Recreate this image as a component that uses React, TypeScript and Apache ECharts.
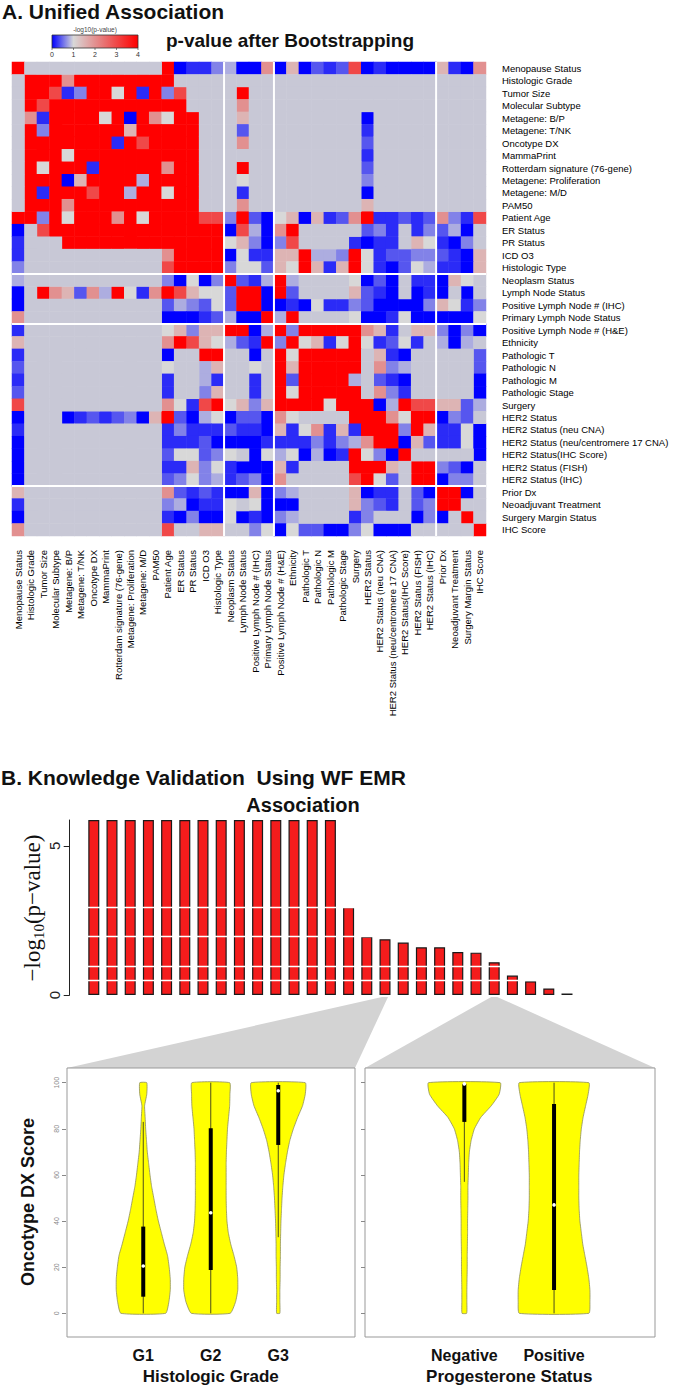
import React, { useEffect, useRef } from "react";
import * as echarts from "echarts";

// ---------------- Panel A: association heatmap ----------------
const VARIABLES = [
  "Menopause Status", "Histologic Grade", "Tumor Size", "Molecular Subtype",
  "Metagene: B/P", "Metagene: T/NK", "Oncotype DX", "MammaPrint",
  "Rotterdam signature (76-gene)", "Metagene: Proliferation", "Metagene: M/D", "PAM50",
  "Patient Age", "ER Status", "PR Status", "ICD O3", "Histologic Type",
  "Neoplasm Status", "Lymph Node Status", "Positive Lymph Node # (IHC)", "Primary Lymph Node Status",
  "Positive Lymph Node # (H&E)", "Ethnicity", "Pathologic T", "Pathologic N", "Pathologic M",
  "Pathologic Stage", "Surgery", "HER2 Status", "HER2 Status (neu CNA)",
  "HER2 Status (neu/centromere 17 CNA)", "HER2 Status(IHC Score)", "HER2 Status (FISH)",
  "HER2 Status (IHC)", "Prior Dx", "Neoadjuvant Treatment", "Surgery Margin Status", "IHC Score",
];

// code digit -> -log10(p) value ; "." = not tested
const LEVELS = [0, 0.2, 0.4, 0.6, 0.8, 1.0, 1.5, 2.0, 3.0, 4.0];

const HEAT_ROWS = [
  "9" + "..........." + "901134" + "00" + "7" + "0602128" + "010000" + "6107",
  ".9997" + "99999999" + ".........................",
  ".9981399591938" + "...." + "9" + "...................",
  ".98" + "99999999999" + "...." + "7" + "...................",
  ".71999959097599" + "..." + "6" + "........." + "0" + ".........",
  ".93999999699999" + "..." + "2" + "........." + "1" + ".........",
  ".99999991989999" + "..." + "7" + "........." + "2" + ".........",
  ".99959999999999" + "...." + "........." + "1" + ".........",
  ".95999199999799" + "..." + "9" + "........." + "2" + ".........",
  ".99906999949999" + "..." + "5" + "........." + "3" + ".........",
  ".91999899499599" + "..." + "1" + "........." + "0" + ".........",
  ".99979999999999" + "..." + "7" + "........." + "6" + ".........",
  "9939599979" + "5999988392" + "0560612791" + "12127318",
  "0.8" + "99999999999999" + "08" + "40" + "79" + "....." + "231.13" + "240.",
  "1..." + "9999999999999" + "56" + "30" + "38" + "...." + "1011" + "." + "65" + "103.",
  "1" + "..........." + "7" + "9999" + "05" + "11" + "6694439" + "512233" + "2106",
  "3" + "..........." + "8" + "9999" + "35" + "52" + "6596169" + "510254" + "1106",
  "4" + "..........." + "30503" + "92" + "14" + "94" + "...." + "5020" + "." + "11" + "065.",
  "0.9762749517986552" + "990" + "92" + "...." + "6210.01" + "0.0.",
  "0" + "..........." + "24325" + "29" + "90" + "0105113" + "200003" + "6513",
  "7" + "..........." + "00012" + "40" + "09" + "49" + "...." + "5001500" + "0005",
  "1" + "..........." + "56366" + "99" + "04" + "93" + "99999" + "761.66" + "3030",
  "6" + "..........." + "79865" + "42" + "19" + "39" + "56159" + "51251." + "404.",
  "1" + "..........." + "0..99" + ".." + "0." + "95" + "99999" + ".610.." + "...2",
  "2" + "..........." + "5..46" + ".." + "5." + "96" + "99999" + ".734.." + "...2",
  "1" + "..........." + "1..41" + ".." + "1." + "92" + "99994" + ".210.." + "...0",
  "2" + "..........." + "1..36" + ".." + "1." + "95" + "99999" + ".731.." + "...0",
  "8" + "..........." + "75189" + "56" + "36" + "99" + "99599" + "904988" + "6624",
  "0" + "..." + "01212306" + "92045" + "02" + "20" + "75" + "....9" + "997599" + "032.",
  "1" + "..........." + "13111" + "21" + "10" + "61" + "57161" + "999396" + "1150",
  "0" + "..........." + "11120" + "00" + "01" + "11" + "13134" + "799062" + "1150",
  "0" + "..........." + "25523" + "5." + "05" + "45" + "04019" + "5309.." + "...0",
  "0" + "..........." + "11635" + "10" + "00" + "61" + "....9" + "996.99" + "320.",
  "0" + "..........." + "23534" + "12" + "30" + "7." + "....8" + "952.99" + "033.",
  "6" + "..........." + "72121" + "00" + "60" + "34" + "....6" + "011.20" + "990.",
  "1" + "..........." + "34011" + "5." + "50" + "00" + "....6" + "321.23" + "99..",
  "0" + "..........." + "10300" + "50" + "10" + "34" + "....1" + "3...03" + "0.9.",
  "7" + "..........." + "8..66" + ".." + "35" + "05" + "22003" + "5000.." + "...9",
];

const SEPARATORS = [17, 21, 34];
const LEGEND_TICKS = [0, 1, 2, 3, 4];
const HEAT_COLORS = ["#0000ff", "#d8d8d8", "#e29090", "#f04848", "#ff0000"];
const NA_COLOR = "#c8c8d6";

// ---------------- Panel B: association bars ----------------
const BAR_IDS = [
  "1", "2", "3", "4", "5", "6", "7", "8", "9", "10", "11", "12", "13", "14",
  "15", "16", "17", "18", "19", "20", "21", "22", "23", "24", "25", "26", "27",
];
const BAR_VALUES = [
  5.87, 5.87, 5.87, 5.87, 5.87, 5.87, 5.87, 5.87, 5.87, 5.87, 5.87, 5.87, 5.87, 5.87,
  2.95, 1.96, 1.87, 1.76, 1.6, 1.6, 1.44, 1.42, 1.1, 0.65, 0.46, 0.22, 0.05,
];
const BAR_WHITE_LINES = [0.48, 0.97, 1.98, 2.95];
const BAR_TICKS = [0, 5];
const LINK_GRADE = 16;
const LINK_PR = 22;

// ---------------- Violins ----------------
const GRADE_CATS = ["G1", "G2", "G3"];
const PR_CATS = ["Negative", "Positive"];
const VIOLIN_LEVELS = [0, 5, 10, 15, 20, 25, 30, 35, 40, 45, 50, 55, 60, 65, 70, 75, 80, 85, 90, 95, 100];
const GRADE_DENSITY = [
  [0.83, 0.95, 1.0, 1.0, 0.96, 0.9, 0.78, 0.67, 0.56, 0.47, 0.39, 0.31, 0.25, 0.2, 0.15, 0.12, 0.09, 0.07, 0.05, 0.13, 0.13],
  [0.72, 0.92, 1.0, 1.0, 0.96, 0.86, 0.74, 0.65, 0.6, 0.58, 0.57, 0.57, 0.57, 0.57, 0.58, 0.6, 0.62, 0.66, 0.7, 0.71, 0.7],
  [0.06, 0.06, 0.06, 0.07, 0.07, 0.08, 0.08, 0.09, 0.1, 0.12, 0.14, 0.17, 0.21, 0.27, 0.34, 0.43, 0.56, 0.72, 0.9, 1.0, 1.0],
];
const PR_DENSITY = [
  [0.065, 0.07, 0.07, 0.075, 0.08, 0.08, 0.085, 0.09, 0.09, 0.095, 0.1, 0.1, 0.11, 0.12, 0.14, 0.19, 0.28, 0.46, 0.75, 0.97, 1.0],
  [0.97, 1.0, 1.0, 0.97, 0.92, 0.86, 0.8, 0.76, 0.72, 0.7, 0.69, 0.69, 0.69, 0.7, 0.71, 0.73, 0.76, 0.81, 0.88, 0.95, 0.97],
];
// [whisker low, Q1, median, Q3, whisker high]
const GRADE_BOX = [
  [0, 7.2, 20.5, 37.6, 83],
  [0, 18.8, 43.6, 80.2, 100],
  [33, 73, 96.5, 99, 100],
];
const PR_BOX = [
  [57, 83, 99.5, 99.5, 100],
  [0, 10.1, 47, 90.8, 100],
];

const SANS = "Liberation Sans, Arial, sans-serif";
const SERIF = "Liberation Serif, DejaVu Serif, serif";

function violinRenderer(densities: number[][], boxes: number[][]) {
  return (params: any, api: any) => {
    const i = api.value(0);
    const dens = densities[i];
    const st = boxes[i];
    const band = api.size([1, 0])[0];
    const maxHW = band * 0.4;
    const pts: number[][] = [];
    VIOLIN_LEVELS.forEach((v, k) => {
      const p = api.coord([i, v]);
      pts.push([p[0] + dens[k] * maxHW, p[1]]);
    });
    for (let k = VIOLIN_LEVELS.length - 1; k >= 0; k--) {
      const p = api.coord([i, VIOLIN_LEVELS[k]]);
      pts.push([p[0] - dens[k] * maxHW, p[1]]);
    }
    const lo = api.coord([i, st[0]]);
    const q1 = api.coord([i, st[1]]);
    const med = api.coord([i, st[2]]);
    const q3 = api.coord([i, st[3]]);
    const hi = api.coord([i, st[4]]);
    return {
      type: "group",
      children: [
        { type: "polygon", shape: { points: pts, smooth: 0.15 }, style: { fill: "#ffff00", stroke: "#8d8d5c", lineWidth: 0.8 } },
        { type: "line", shape: { x1: lo[0], y1: lo[1], x2: hi[0], y2: hi[1] }, style: { stroke: "#3a3a20", lineWidth: 0.9 } },
        { type: "rect", shape: { x: q1[0] - 2, y: q3[1], width: 4, height: q1[1] - q3[1] }, style: { fill: "#000" } },
        { type: "circle", shape: { cx: med[0], cy: med[1], r: 1.8 }, style: { fill: "#fff" } },
      ],
    };
  };
}

export default function App() {
  const ref = useRef<HTMLDivElement>(null);

  useEffect(() => {
    document.body.style.margin = "0";
    const el = ref.current!;
    const chart = echarts.init(el, undefined, { renderer: "svg" });

    const heatData: number[][] = [];
    const naData: number[][] = [];
    HEAT_ROWS.forEach((row, r) => {
      const s = row.padEnd(38, ".").slice(0, 38);
      for (let c = 0; c < 38; c++) {
        const ch = s[c];
        if (ch === ".") naData.push([c, r, 1]);
        else heatData.push([c, r, LEVELS[Number(ch)]]);
      }
    });

    const violinYAxis = (grid: number, offset: number, labels: boolean) => ({
      type: "value",
      gridIndex: grid,
      min: 0,
      max: 100,
      interval: 20,
      offset,
      axisLine: { show: false },
      axisTick: { show: true, length: 4, lineStyle: { color: "#888" } },
      axisLabel: { show: labels, rotate: 90, fontSize: 7, color: "#888", margin: 6, fontFamily: SANS },
      splitLine: { show: false },
    });
    const violinXAxis = (grid: number, cats: string[], name: string) => ({
      type: "category",
      gridIndex: grid,
      data: cats,
      axisLine: { show: false },
      axisTick: { show: false },
      axisLabel: { fontSize: 16, fontWeight: "bold", color: "#111", margin: 34, fontFamily: SANS },
      name,
      nameLocation: "middle",
      nameGap: 55,
      nameTextStyle: { fontSize: 17, fontWeight: "bold", color: "#111", fontFamily: SANS },
    });

    chart.setOption({
      animation: false,
      textStyle: { fontFamily: SANS },
      grid: [
        { left: 12, top: 62, width: 474, height: 474 },
        { left: 84.7, top: 820, width: 491.4, height: 175 },
        { left: 109.5, top: 1082.7, width: 202.5, height: 230.6 },
        { left: 419.5, top: 1082.7, width: 179.4, height: 230.6 },
      ],
      xAxis: [
        {
          type: "category", gridIndex: 0, data: VARIABLES,
          axisLine: { show: false }, axisTick: { show: false }, splitLine: { show: false },
          axisLabel: { interval: 0, rotate: 90, fontSize: 9.5, color: "#000", margin: 14, fontFamily: SANS },
        },
        { type: "category", gridIndex: 1, data: BAR_IDS, show: false },
        violinXAxis(2, GRADE_CATS, "Histologic Grade"),
        violinXAxis(3, PR_CATS, "Progesterone Status"),
      ],
      yAxis: [
        {
          type: "category", gridIndex: 0, data: VARIABLES, inverse: true, position: "right",
          axisLine: { show: false }, axisTick: { show: false }, splitLine: { show: false },
          axisLabel: { interval: 0, fontSize: 9.5, color: "#000", margin: 16, fontFamily: SANS },
        },
        {
          type: "value", gridIndex: 1, min: 0, max: 5.87, offset: 15,
          axisLine: { show: true, lineStyle: { color: "#222", width: 1 } },
          axisTick: { show: true, length: 6, customValues: BAR_TICKS, lineStyle: { color: "#222" } },
          axisLabel: { customValues: BAR_TICKS, rotate: 90, fontSize: 15, color: "#222", margin: 8, fontFamily: SANS },
          splitLine: { show: false },
        },
        violinYAxis(2, 43.5, true),
        violinYAxis(3, 54.5, false),
      ],
      visualMap: [
        {
          show: false, type: "continuous", min: 0, max: 4, seriesIndex: 0, dimension: 2,
          inRange: { color: HEAT_COLORS },
        },
        {
          show: false, type: "continuous", min: 0, max: 2, seriesIndex: 1, dimension: 2,
          inRange: { color: [NA_COLOR, NA_COLOR] },
        },
      ],
      series: [
        {
          type: "heatmap", xAxisIndex: 0, yAxisIndex: 0, data: heatData,
          emphasis: { disabled: true }, itemStyle: { borderWidth: 0 },
        },
        {
          type: "heatmap", xAxisIndex: 0, yAxisIndex: 0, data: naData,
          emphasis: { disabled: true }, itemStyle: { borderWidth: 0 },
        },
        {
          type: "bar", xAxisIndex: 1, yAxisIndex: 1, data: BAR_VALUES, barWidth: 11,
          itemStyle: { color: "#f41c1c", borderColor: "#1a1a1a", borderWidth: 1.2 },
          markLine: {
            silent: true, symbol: "none", label: { show: false },
            lineStyle: { color: "#ffffff", width: 1.4, type: "solid" },
            data: BAR_WHITE_LINES.map((v) => ({ yAxis: v })),
          },
        },
        {
          type: "custom", xAxisIndex: 2, yAxisIndex: 2,
          renderItem: violinRenderer(GRADE_DENSITY, GRADE_BOX),
          data: GRADE_BOX.map((b, i) => [i, b[2]]),
          encode: { x: 0, y: 1 },
        },
        {
          type: "custom", xAxisIndex: 3, yAxisIndex: 3,
          renderItem: violinRenderer(PR_DENSITY, PR_BOX),
          data: PR_BOX.map((b, i) => [i, b[2]]),
          encode: { x: 0, y: 1 },
        },
      ],
    });

    // ------- decorations that depend on the axes -------
    const hx = (i: number) => chart.convertToPixel({ xAxisIndex: 0 }, i) as unknown as number;
    const hy = (i: number) => chart.convertToPixel({ yAxisIndex: 0 }, i) as unknown as number;
    const cw = (hx(37) - hx(0)) / 37;
    const chh = (hy(37) - hy(0)) / 37;
    const hLeft = hx(0) - cw / 2, hRight = hx(37) + cw / 2;
    const hTop = hy(0) - chh / 2, hBottom = hy(37) + chh / 2;

    const graphics: any[] = [];
    SEPARATORS.forEach((k) => {
      const x = (hx(k - 1) + hx(k)) / 2;
      const y = (hy(k - 1) + hy(k)) / 2;
      graphics.push({ type: "line", z: 100, shape: { x1: x, y1: hTop, x2: x, y2: hBottom }, style: { stroke: "#fff", lineWidth: 2 } });
      graphics.push({ type: "line", z: 100, shape: { x1: hLeft, y1: y, x2: hRight, y2: y }, style: { stroke: "#fff", lineWidth: 2 } });
    });

    // titles
    graphics.push({ type: "text", x: 2, y: 11, style: { text: "A. Unified Association", font: `bold 21px ${SANS}`, fill: "#111", verticalAlign: "middle" } });
    graphics.push({ type: "text", x: 166, y: 40, style: { text: "p-value after Bootstrapping", font: `bold 19px ${SANS}`, fill: "#111", verticalAlign: "middle" } });
    graphics.push({ type: "text", x: 1, y: 777, style: { text: "B. Knowledge Validation  Using WF EMR", font: `bold 21px ${SANS}`, fill: "#111", verticalAlign: "middle" } });
    graphics.push({ type: "text", x: 303, y: 805, style: { text: "Association", font: `bold 20px ${SANS}`, fill: "#111", align: "center", verticalAlign: "middle" } });

    // colour key
    const kx0 = 52, kx1 = 138, ky = 35, kh = 13;
    graphics.push({
      type: "rect", shape: { x: kx0, y: ky, width: kx1 - kx0, height: kh },
      style: {
        fill: { type: "linear", x: 0, y: 0, x2: 1, y2: 0, colorStops: HEAT_COLORS.map((c, i) => ({ offset: i / (HEAT_COLORS.length - 1), color: c })) },
        stroke: "#333", lineWidth: 0.8,
      },
    });
    graphics.push({ type: "text", x: (kx0 + kx1) / 2, y: 29, style: { text: "-log10(p-value)", font: `6.5px ${SANS}`, fill: "#444", align: "center", verticalAlign: "middle" } });
    LEGEND_TICKS.forEach((t) => {
      const x = kx0 + ((kx1 - kx0) * t) / 4;
      graphics.push({ type: "line", shape: { x1: x, y1: ky + kh, x2: x, y2: ky + kh + 2 }, style: { stroke: "#333", lineWidth: 0.6 } });
      graphics.push({ type: "text", x, y: 54, style: { text: String(t), font: `7px ${SANS}`, fill: "#333", align: "center", verticalAlign: "middle" } });
    });

    // bar y-axis title
    graphics.push({
      type: "text", x: 32, y: 908, rotation: Math.PI / 2,
      style: {
        text: "{a|\u2212log}{s|10}{a|(p\u2212value)}",
        align: "center", verticalAlign: "middle",
        rich: {
          a: { fontFamily: SERIF, fontSize: 23, fill: "#111", lineHeight: 28, verticalAlign: "middle" },
          s: { fontFamily: SERIF, fontSize: 15, fill: "#111", lineHeight: 28, verticalAlign: "bottom" },
        },
      },
    });

    // violin panels and links to bars
    const barBottom = chart.convertToPixel({ yAxisIndex: 1 }, 0) as unknown as number;
    const gx = chart.convertToPixel({ xAxisIndex: 1 }, LINK_GRADE) as unknown as number;
    const px = chart.convertToPixel({ xAxisIndex: 1 }, LINK_PR) as unknown as number;
    const panelTop = 1068, panelBottom = 1337;
    const leftPanel = [67, 355], rightPanel = [365, 655];
    graphics.push({ type: "polygon", z: -1, shape: { points: [[leftPanel[0], panelTop], [leftPanel[1], panelTop], [gx + 3, barBottom + 2], [gx - 3, barBottom + 2]] }, style: { fill: "#d3d3d3" } });
    graphics.push({ type: "polygon", z: -1, shape: { points: [[rightPanel[0], panelTop], [rightPanel[1], panelTop], [px + 3, barBottom + 2], [px - 3, barBottom + 2]] }, style: { fill: "#d3d3d3" } });
    [leftPanel, rightPanel].forEach((p) => {
      graphics.push({ type: "rect", shape: { x: p[0], y: panelTop, width: p[1] - p[0], height: panelBottom - panelTop }, style: { fill: "none", stroke: "#999", lineWidth: 1 } });
    });
    graphics.push({ type: "text", x: 28, y: 1202, rotation: Math.PI / 2, style: { text: "Oncotype DX Score", font: `bold 18px ${SANS}`, fill: "#111", align: "center", verticalAlign: "middle" } });

    chart.setOption({ graphic: graphics });

    return () => chart.dispose();
  }, []);

  return <div ref={ref} style={{ width: 700, height: 1390 }} />;
}
